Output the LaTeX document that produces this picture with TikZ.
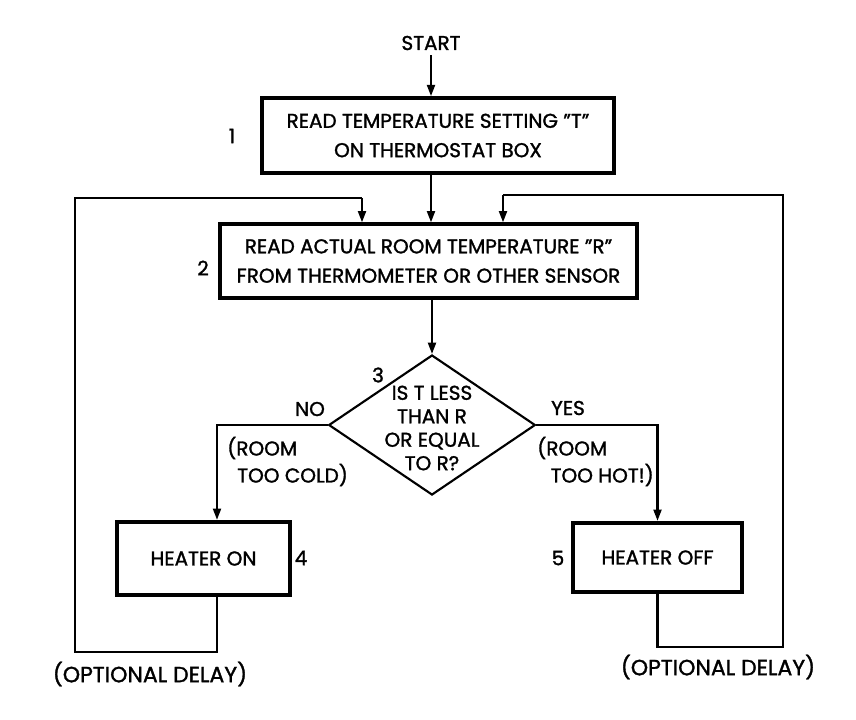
\documentclass[tikz,border=0pt]{standalone}
\usepackage{fontspec}
\setmainfont[FakeBold=1.4]{Poppins}
\usetikzlibrary{arrows.meta,shapes.geometric}
\begin{document}
\begin{tikzpicture}[x=0.75pt,y=-0.75pt,
  every node/.style={font=\fontsize{15}{22}\selectfont},
  boxst/.style={draw,line width=3pt,inner sep=0pt,align=center},
  conn/.style={line width=1.6pt},
  arr/.style={conn,-{Triangle[length=8.5pt,width=6pt]}},
  lbl/.style={inner sep=0pt,align=left},
  big/.style={font=\fontsize{16.5}{20}\selectfont}]
\useasboundingbox (0,0) rectangle (856,719);
\node[lbl] (start) at (431,43) {START};
\node[boxst,minimum width=264pt,minimum height=56pt] (b1) at (438,135.5)
  {READ TEMPERATURE SETTING ”T”\\ON THERMOSTAT BOX};
\node[lbl] (n1) at (232,136) {1};
\node[boxst,minimum width=313pt,minimum height=55pt] (b2) at (428.5,261)
  {READ ACTUAL ROOM TEMPERATURE ”R”\\FROM THERMOMETER OR OTHER SENSOR};
\node[lbl] (n2) at (203,268) {2};
\node[draw,diamond,conn,minimum width=155pt,minimum height=105pt,inner sep=0pt] (d) at (432,425) {};
\node[lbl,align=center,font=\fontsize{15}{17.6}\selectfont] (dt) at (432,428)
  {IS T LESS\\THAN R\\OR EQUAL\\TO R?};
\node[lbl] (n3) at (378,375) {3};
\node[lbl] (no) at (310,409) {NO};
\node[lbl] (yes) at (568,408) {YES};
\node[lbl,anchor=west] (rc1) at (227,448) {(ROOM};
\node[lbl,anchor=west] (rc2) at (237,475) {TOO COLD)};
\node[lbl,anchor=west] (rh1) at (537,448) {(ROOM};
\node[lbl,anchor=east] (rh2) at (654,475) {TOO HOT!)};
\node[boxst,minimum width=130pt,minimum height=55pt] (h1) at (203.5,558.5) {HEATER ON};
\node[lbl] (n4) at (301,558) {4};
\node[boxst,minimum width=127pt,minimum height=52pt] (h2) at (657.5,557.5) {HEATER OFF};
\node[lbl] (n5) at (558,558) {5};
\node[lbl,big] (od1) at (150,674) {(OPTIONAL DELAY)};
\node[lbl,big] (od2) at (718,667) {(OPTIONAL DELAY)};
\coordinate (cl) at (75,652);
\coordinate (cr) at (783,647);
\coordinate (tl) at (75,198);
\coordinate (tr) at (783,195);
\coordinate (tl2) at (362,198);
\coordinate (tr2) at (503,195);
\coordinate (xl) at (217,0);
\draw[arr] (start.south) ++(0,5) coordinate (s0) -- (s0 |- b1.north);
\draw[arr] (b1.south -| start) -- (b2.north -| start);
\draw[arr] (b2.south -| d.north) -- (d.north);
\draw[arr] (d.west) -| (h1.north -| xl);
\draw[arr] (d.east) -| (h2.north);
\draw[conn] (h1.south -| xl) |- (cl) -- (tl) -- (tl2);
\draw[arr] (tl2) -- (tl2 |- b2.north);
\draw[conn] (h2.south) |- (cr) -- (tr) -- (tr2);
\draw[arr] (tr2) -- (tr2 |- b2.north);
\end{tikzpicture}
\end{document}
